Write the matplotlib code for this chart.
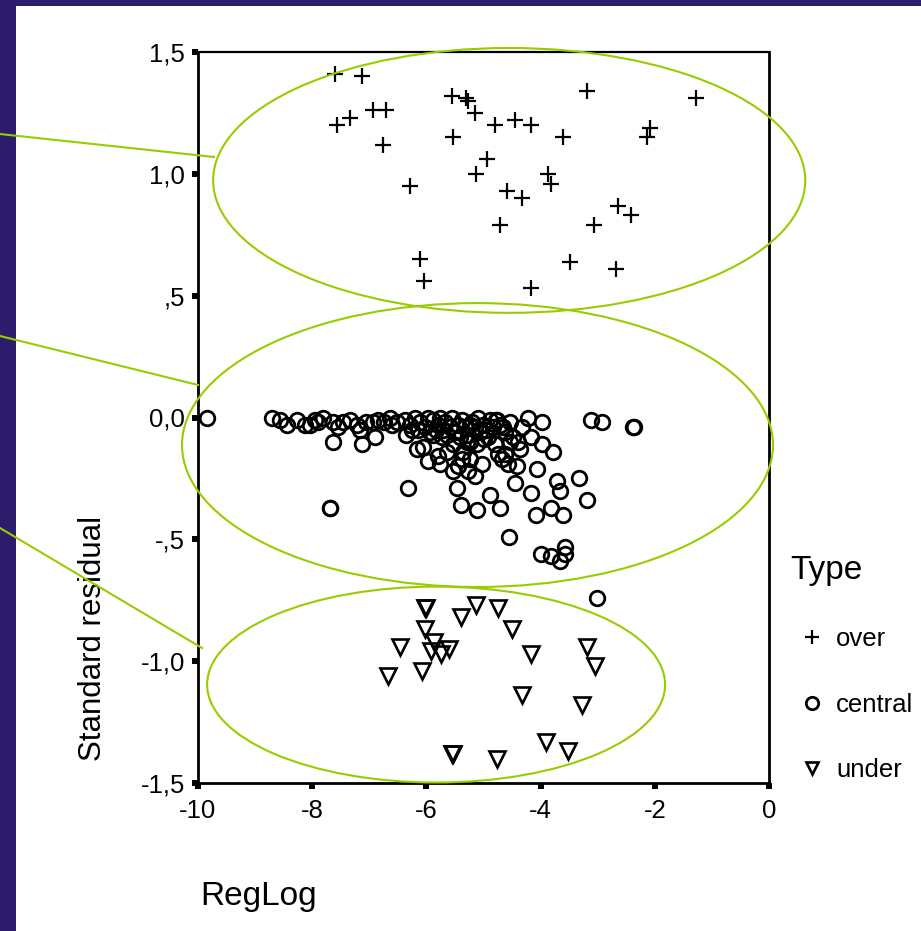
import matplotlib
matplotlib.use('Agg')
import matplotlib.pyplot as plt
from matplotlib.patches import Ellipse, Rectangle
from matplotlib.lines import Line2D

plt.rcParams['font.family'] = ['Liberation Sans', 'DejaVu Sans']

# ---------------- data ----------------
over_x = [-7.60, -7.13, -7.34, -7.56, -6.93, -6.71, -6.76, -6.29, -6.11, -6.04,
          -5.56, -5.31, -5.27, -5.15, -5.53, -4.93, -5.14, -4.80, -4.45, -4.17,
          -4.59, -4.33, -4.71, -4.16, -3.61, -3.18, -3.87, -3.82, -3.49, -3.06,
          -2.64, -2.42, -2.68, -2.08, -2.13, -1.28]
over_y = [1.41, 1.40, 1.23, 1.20, 1.26, 1.26, 1.12, 0.95, 0.65, 0.56,
          1.32, 1.31, 1.30, 1.25, 1.15, 1.06, 1.00, 1.20, 1.22, 1.20,
          0.93, 0.90, 0.79, 0.53, 1.15, 1.34, 1.00, 0.96, 0.64, 0.79,
          0.87, 0.83, 0.61, 1.19, 1.15, 1.31]

central_x = [-9.84,
             -8.71, -8.56, -8.45, -8.27, -8.13, -8.04, -7.95, -7.89, -7.81, -7.63,
             -7.64, -7.54, -7.46, -7.34, -7.22, -7.16, -7.13, -7.05, -6.93, -6.90,
             -6.84, -6.75, -6.64, -6.61, -6.52, -7.69, -7.68, -6.33,
             -6.37, -6.29, -6.25, -6.20, -6.11, -6.02, -5.97, -5.94, -5.88, -5.80,
             -5.76, -5.71, -5.67, -5.59, -5.55, -5.50, -5.45, -5.38, -5.32, -5.27,
             -5.20, -5.15, -5.10, -5.06, -5.01, -4.96, -4.89, -4.83, -4.78, -4.71,
             -4.62, -4.54, -6.15, -5.64, -5.24, -4.92, -5.83, -5.41,
             -6.35, -6.17, -6.06, -5.88, -5.73, -5.64, -5.53, -5.36, -5.29, -5.24,
             -5.12, -5.00, -4.80, -4.75, -4.62, -4.54, -4.48, -4.40, -4.36,
             -5.97, -5.79, -5.76, -5.53, -5.44, -5.38, -5.27, -5.24, -5.15, -5.03,
             -5.47, -5.40, -5.11, -4.89, -4.71, -4.68, -4.57, -4.42, -4.45, -4.55,
             -4.76, -4.65, -4.33, -4.22, -3.98, -4.16, -3.98, -3.78, -4.07, -3.72,
             -3.32, -3.66, -4.16, -3.19, -3.82, -4.08, -3.61, -4.00, -3.82, -3.57,
             -3.57, -3.66, -3.11, -2.93, -2.38, -2.37, -3.01]
central_y = [0.00,
             0.00, -0.01, -0.03, -0.01, -0.03, -0.03, -0.01, -0.02, 0.00, -0.02,
             -0.10, -0.04, -0.02, -0.01, -0.03, -0.05, -0.11, -0.02, -0.02, -0.08,
             -0.01, -0.02, 0.00, -0.03, -0.02, -0.37, -0.37, -0.29,
             -0.01, -0.03, -0.05, 0.00, -0.02, -0.04, 0.00, -0.06, -0.01, -0.03,
             0.00, -0.05, -0.02, -0.04, 0.00, -0.06, -0.03, -0.01, -0.04, -0.07,
             -0.02, -0.04, 0.00, -0.06, -0.03, -0.05, -0.01, -0.04, -0.01, -0.03,
             -0.06, -0.02, -0.05, -0.07, -0.03, -0.08, -0.05, -0.08,
             -0.07, -0.13, -0.12, -0.07, -0.08, -0.14, -0.11, -0.14, -0.10, -0.10,
             -0.11, -0.09, -0.11, -0.15, -0.15, -0.10, -0.08, -0.10, -0.13,
             -0.18, -0.16, -0.19, -0.22, -0.20, -0.17, -0.22, -0.17, -0.24, -0.19,
             -0.29, -0.36, -0.38, -0.32, -0.37, -0.17, -0.19, -0.20, -0.27, -0.49,
             -0.01, -0.04, -0.04, 0.00, -0.02, -0.08, -0.11, -0.14, -0.21, -0.26,
             -0.25, -0.30, -0.31, -0.34, -0.37, -0.40, -0.40, -0.56, -0.57, -0.53,
             -0.56, -0.59, -0.01, -0.02, -0.04, -0.04, -0.74]

under_x = [-6.03, -6.01, -5.14, -4.75, -5.39, -6.03, -4.50, -5.86, -6.46, -5.61,
           -5.92, -5.75, -4.16, -3.18, -3.05, -6.08, -6.67, -4.33, -3.27, -3.90,
           -3.52, -5.55, -5.54, -4.76]
under_y = [-0.78, -0.78, -0.77, -0.78, -0.82, -0.87, -0.87, -0.92, -0.94, -0.95,
           -0.96, -0.97, -0.97, -0.94, -1.02, -1.04, -1.06, -1.14, -1.18, -1.33,
           -1.37, -1.38, -1.38, -1.40]

type_labels = ['over', 'central', 'under']

x_ticks = [-10, -8, -6, -4, -2, 0]
x_ticklabels = ['-10', '-8', '-6', '-4', '-2', '0']
y_ticks = [-1.5, -1.0, -0.5, 0.0, 0.5, 1.0, 1.5]
y_ticklabels = ['-1,5', '-1,0', '-,5', '0,0', ',5', '1,0', '1,5']

# ---------------- figure ----------------
W, H = 921, 931
fig = plt.figure(figsize=(W / 100, H / 100), dpi=100)
fig.patch.set_facecolor('white')

purple = '#2d1b6b'
green = '#99cc00'

# decorative slide bands
fig.add_artist(Rectangle((0, 0), 16 / W, 1, transform=fig.transFigure,
                         facecolor=purple, edgecolor='none', zorder=0))
fig.add_artist(Rectangle((0, 1 - 6 / H), 1, 6 / H, transform=fig.transFigure,
                         facecolor=purple, edgecolor='none', zorder=0))

ax = fig.add_axes([198 / W, 1 - 783 / H, (769 - 198) / W, (783 - 52) / H])
ax.set_xlim(-10, 0)
ax.set_ylim(-1.5, 1.5)

h_over, = ax.plot(over_x, over_y, linestyle='none', marker='+', markersize=12,
                  markeredgewidth=1.6, color='black', label=type_labels[0])
h_cen, = ax.plot(central_x, central_y, linestyle='none', marker='o', markersize=10.5,
                 markeredgewidth=2.0, markerfacecolor='none', markeredgecolor='black',
                 label=type_labels[1])
h_under, = ax.plot(under_x, under_y, linestyle='none', marker='v', markersize=11,
                   markeredgewidth=1.9, markerfacecolor='none', markeredgecolor='black',
                   label=type_labels[2])

# highlight ellipses
for (cx, cy, w, h) in [(-4.55, 0.973, 10.37, 1.087),
                       (-5.105, -0.113, 10.35, 1.165),
                       (-5.83, -1.096, 8.02, 0.804)]:
    ax.add_patch(Ellipse((cx, cy), w, h, fill=False, edgecolor=green,
                         linewidth=1.5, clip_on=False, zorder=5))

# connector lines from the left edge
for (x0, y0, x1, y1) in [(0, 134, 214, 157), (0, 336, 198, 385), (0, 528, 202, 648)]:
    fig.add_artist(Line2D([x0 / W, x1 / W], [1 - y0 / H, 1 - y1 / H],
                          transform=fig.transFigure, color=green, linewidth=1.5, zorder=6))

ax.set_xticks(x_ticks)
ax.set_xticklabels(x_ticklabels)
ax.set_yticks(y_ticks)
ax.set_yticklabels(y_ticklabels)
ax.tick_params(direction='out', length=4.5, width=4.3, labelsize=18.5, pad=5,
               colors='black')
ax.tick_params(axis='x', pad=7)

for side in ['left', 'bottom', 'right']:
    ax.spines[side].set_linewidth(2.0)
ax.spines['top'].set_linewidth(1.6)
for s in ax.spines.values():
    s.set_color('black')

ax.set_ylabel('Standard residual', fontsize=22.5, va='center')
ax.yaxis.set_label_coords((93 - 198) / 571, (783 - 638) / 731)
ax.set_xlabel('RegLog', fontsize=24, va='center')
ax.xaxis.set_label_coords((259 - 198) / 571, (783 - 897) / 731)

leg = ax.legend(handles=[h_over, h_cen, h_under], labels=type_labels, title='Type',
                loc='upper left', bbox_to_anchor=(790 / W, 1 - 555 / H),
                bbox_transform=fig.transFigure, frameon=False,
                prop={'size': 18.5}, title_fontsize=24, markerscale=0.85,
                handlelength=1.7, handletextpad=0.1, labelspacing=1.61,
                borderpad=0, borderaxespad=0, alignment='left')

fig.savefig('out.png', dpi=100, facecolor='white')
